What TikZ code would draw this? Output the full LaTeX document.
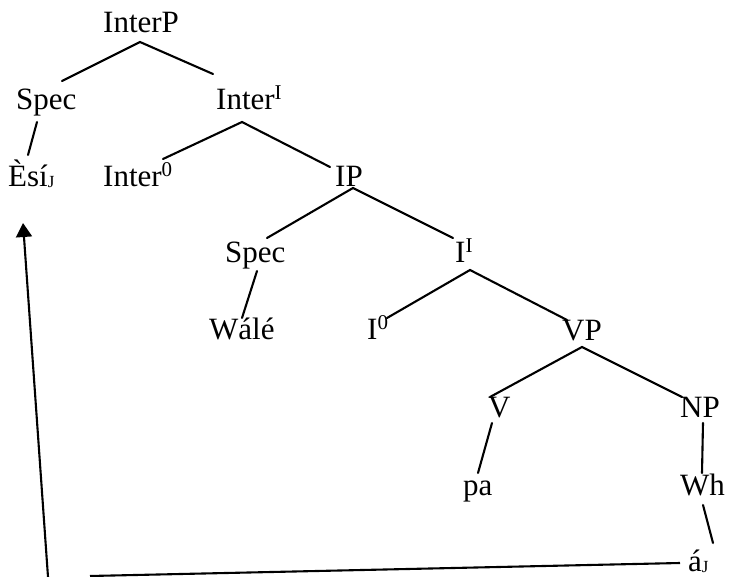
\documentclass[tikz,border=0pt]{standalone}
\usepackage{fontspec}
\setmainfont{Liberation Serif}
\usetikzlibrary{arrows.meta}
% bar-level superscript and index subscript
\newcommand\barlvl[1]{\raisebox{10pt}{\fontsize{21}{21}\selectfont #1}}
\newcommand\coidx[1]{\raisebox{-1pt}{\fontsize{17}{17}\selectfont #1}}
\begin{document}
\begin{tikzpicture}[x=1pt,y=-1pt,
  lbl/.style={anchor=base west,inner sep=0pt,font=\fontsize{31}{36}\selectfont},
  branch/.style={line width=2.1pt,line cap=round},
  move/.style={line width=2.1pt}]
\useasboundingbox (0,0) rectangle (731,577);

% category labels and words
\node[lbl] (interP) at (103,33)  {InterP};
\node[lbl] (specA)  at (16,110)  {Spec};
\node[lbl] (interB) at (216,110) {Inter\barlvl{I}};
\node[lbl] (esi)    at (8,187)   {Èsí\coidx{J}};
\node[lbl] (interZ) at (103,187) {Inter\barlvl{0}};
\node[lbl] (ip)     at (335,187) {IP};
\node[lbl] (specB)  at (225,263) {Spec};
\node[lbl] (ibar)   at (455,263) {I\barlvl{I}};
\node[lbl] (wale)   at (209,340) {Wálé};
\node[lbl] (izero)  at (367,340) {I\barlvl{0}};
\node[lbl] (vp)     at (562,341) {VP};
\node[lbl] (v)      at (488,417) {V};
\node[lbl] (np)     at (680,417) {NP};
\node[lbl] (pa)     at (463,495) {pa};
\node[lbl] (wh)     at (680,495) {Wh};
\node[lbl] (aj)     at (688,571) {á\coidx{J}};

% branch end points
\coordinate (interP-d) at (140,42);
\coordinate (specA-u)  at (62,81);
\coordinate (interB-u) at (213,74);
\coordinate (interB-d) at (242,122);
\coordinate (interZ-u) at (163,159);
\coordinate (ip-u)     at (330,167);
\coordinate (specA-d)  at (37,122);
\coordinate (esi-u)    at (28,155);
\coordinate (ip-d)     at (353,188);
\coordinate (specB-u)  at (267,238);
\coordinate (ibar-u)   at (453,238);
\coordinate (specB-d)  at (257,271);
\coordinate (wale-u)   at (242,318);
\coordinate (ibar-d)   at (470,270);
\coordinate (izero-u)  at (387,318);
\coordinate (vp-u)     at (567,320);
\coordinate (vp-d)     at (582,347);
\coordinate (v-u)      at (490,397);
\coordinate (np-u)     at (682,397);
\coordinate (v-d)      at (492,423);
\coordinate (pa-u)     at (478,473);
\coordinate (np-d)     at (703,423);
\coordinate (wh-u)     at (702,473);
\coordinate (wh-d)     at (703,505);
\coordinate (aj-u)     at (713,543);
\coordinate (trace-l)  at (680,563);
\coordinate (trace-r)  at (90,576);
\coordinate (mv-foot)  at (48,577);
\coordinate (mv-head)  at (23,223);

% tree branches
\draw[branch] (specA-u) -- (interP-d) -- (interB-u);
\draw[branch] (interZ-u) -- (interB-d) -- (ip-u);
\draw[branch] (specA-d) -- (esi-u);
\draw[branch] (specB-u) -- (ip-d) -- (ibar-u);
\draw[branch] (specB-d) -- (wale-u);
\draw[branch] (izero-u) -- (ibar-d) -- (vp-u);
\draw[branch] (v-u) -- (vp-d) -- (np-u);
\draw[branch] (v-d) -- (pa-u);
\draw[branch] (np-d) -- (wh-u);
\draw[branch] (wh-d) -- (aj-u);

% movement path
\draw[move] (trace-l) -- (trace-r);
\draw[move,-{Triangle[width=16pt,length=14pt]}] (mv-foot) -- (mv-head);
\end{tikzpicture}
\end{document}
